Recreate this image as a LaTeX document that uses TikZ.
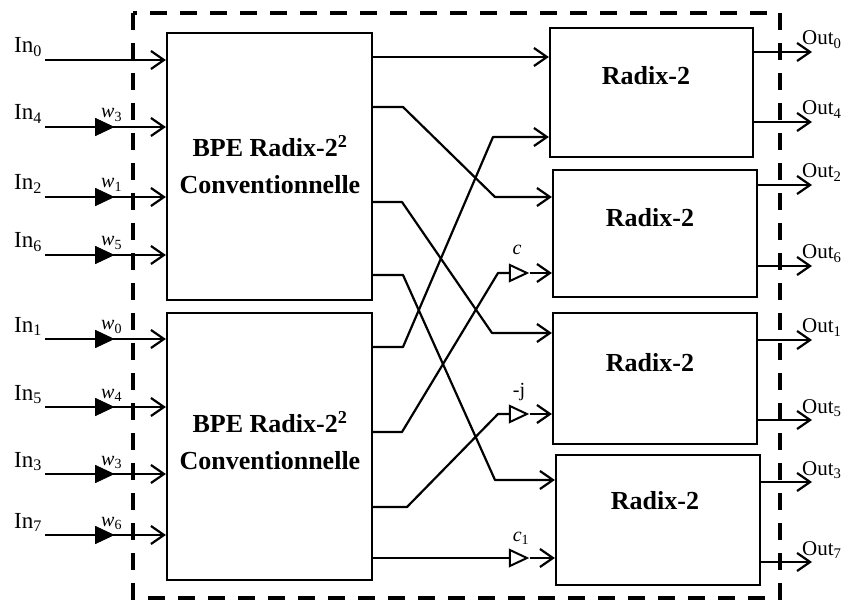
\documentclass[tikz,border=0pt]{standalone}
\usepackage{fontspec}
\setmainfont{Liberation Serif}
\usetikzlibrary{arrows.meta,shapes.geometric}
\begin{document}
\begin{tikzpicture}[x=1pt,y=-1pt,
  wire/.style={line width=2.2pt,line join=round},
  arr/.style={wire,-{Straight Barb[length=13pt,width=18pt]}},
  blk/.style={draw,line width=2.2pt,inner sep=0pt,minimum width=#1},
  bigtxt/.style={font=\fontsize{26}{37}\selectfont\bfseries,align=center,inner sep=0pt},
  intxt/.style={font=\fontsize{23}{26}\selectfont,inner sep=0pt,anchor=base west},
  outtxt/.style={font=\fontsize{21}{24}\selectfont,inner sep=0pt,anchor=base west},
  wtxt/.style={font=\fontsize{20}{22}\selectfont,inner sep=0pt,anchor=base west},
  ftri/.style={isosceles triangle,isosceles triangle stretches,fill=black,draw=black,line width=0.8pt,inner sep=0pt,minimum width=17pt,minimum height=18pt},
  otri/.style={isosceles triangle,isosceles triangle stretches,fill=white,draw=black,line width=2pt,inner sep=0pt,minimum width=16pt,minimum height=17pt},
  frame/.style={line width=3.5pt,dash pattern=on 17pt off 13pt}
]
\useasboundingbox (0,0) rectangle (852,604);
% dashed enclosure
\draw[frame] (133,13) rectangle (780,598);

% blocks
\node[blk=205pt,minimum height=267pt] (bpe1) at (269.5,166.5) {};
\node[blk=205pt,minimum height=267pt] (bpe2) at (269.5,446.5) {};
\node[bigtxt] (bpe1t) at (270,165) {BPE Radix-2\textsuperscript{2}\\Conventionnelle};
\node[bigtxt] (bpe2t) at (270,441) {BPE Radix-2\textsuperscript{2}\\Conventionnelle};

\node[blk=203pt,minimum height=129pt] (rA) at (651.5,92.5) {};
\node[blk=204pt,minimum height=127pt] (rB) at (655,233.5) {};
\node[blk=204pt,minimum height=131pt] (rC) at (655,378.5) {};
\node[blk=204pt,minimum height=130pt] (rD) at (658,520) {};
\node[bigtxt,anchor=base] (rAt) at (646,85) {Radix-2};
\node[bigtxt,anchor=base] (rBt) at (650,227) {Radix-2};
\node[bigtxt,anchor=base] (rCt) at (650,371) {Radix-2};
\node[bigtxt,anchor=base] (rDt) at (655,509) {Radix-2};

% inputs
\foreach \n/\y/\b in {0/60/bpe1,4/127/bpe1,2/197/bpe1,6/255/bpe1,1/339/bpe2,5/407/bpe2,3/474/bpe2,7/535/bpe2}{
  \coordinate (s\n) at (45,\y);
  \draw[arr] (s\n) -- (\b.west |- s\n);
  \node[intxt] (lin\n) at (14,\y-7) {In\textsubscript{\n}};
}
\foreach \n/\y/\w in {4/127/3,2/197/1,6/255/5,1/339/0,5/407/4,3/474/3,7/535/6}{
  \node[ftri] (ft\n) at (101,\y) {};
  \node[wtxt] (w\n) at (101,\y-9) {\textit{w}\textsubscript{\w}};
}

% outputs
\foreach \n/\y/\b in {0/52/rA,4/122/rA,2/185/rB,6/266/rB,1/340/rC,5/420/rC,3/482/rD,7/562/rD}{
  \coordinate (o\n) at (812,\y);
  \draw[arr] (\b.east |- o\n) -- (o\n);
  \node[outtxt] (lout\n) at (802,\y-7) {Out\textsubscript{\n}};
}

% internal connections from first BPE
\draw[arr] (bpe1.east |- 0,57) -- (rA.west |- 0,57);
\draw[arr] (bpe1.east |- 0,107) -- (403,107) -- (495,197) -- (rB.west |- 0,197);
\draw[arr] (bpe1.east |- 0,202) -- (402,202) -- (492,333) -- (rC.west |- 0,333);
\draw[arr] (bpe1.east |- 0,275) -- (403,275) -- (495,480) -- (rD.west |- 0,480);

% internal connections from second BPE
\draw[arr] (bpe2.east |- 0,347) -- (403,347) -- (493,137) -- (rA.west |- 0,137);

\node[otri] (tc) at (515,273) {};
\node[otri] (tj) at (515,414) {};
\node[otri] (tc1) at (515,558) {};
\node[wtxt,anchor=base] (lc) at (517,255) {\textit{c}};
\node[wtxt,anchor=base] (lj) at (519,396) {-j};
\node[wtxt,anchor=base] (lc1) at (521,541) {\textit{c}\textsubscript{1}};

\draw[wire] (bpe2.east |- 0,432) -- (402,432) -- (498,273) -- (tc.west);
\draw[arr] (tc.apex) -- (rB.west |- tc);
\draw[wire] (bpe2.east |- 0,507) -- (407,507) -- (498,414) -- (tj.west);
\draw[arr] (tj.apex) -- (rC.west |- tj);
\draw[wire] (bpe2.east |- 0,558) -- (tc1.west);
\draw[arr] (tc1.apex) -- (rD.west |- tc1);
\end{tikzpicture}
\end{document}
